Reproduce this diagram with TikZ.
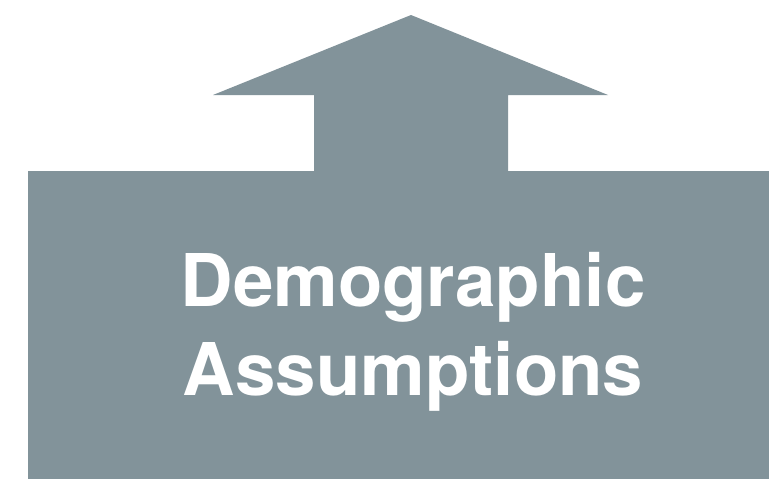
\documentclass[tikz,border=0pt]{standalone}
\usepackage{fontspec}
\setmainfont{TeX Gyre Heros}
\usepackage{xcolor}
\usepackage{tikz}
\usetikzlibrary{positioning}
\definecolor{slategrey}{HTML}{82939A}

\begin{document}
\begin{tikzpicture}[x=1pt,y=-1pt]
  \useasboundingbox (0,0) rectangle (769,479);
  % box with the arrow on top
  \fill[slategrey] (28,479) -- (28,171) -- (314,171) -- (314,95) -- (213,95) -- (411,15)
    -- (608,95) -- (508,95) -- (508,171) -- (769,171) -- (769,479) -- cycle;
  \node[text=white,font=\fontsize{72.7}{89}\selectfont\bfseries,align=center,anchor=base]
    (label) at (413,395) {Demographic\\Assumptions};
\end{tikzpicture}
\end{document}
